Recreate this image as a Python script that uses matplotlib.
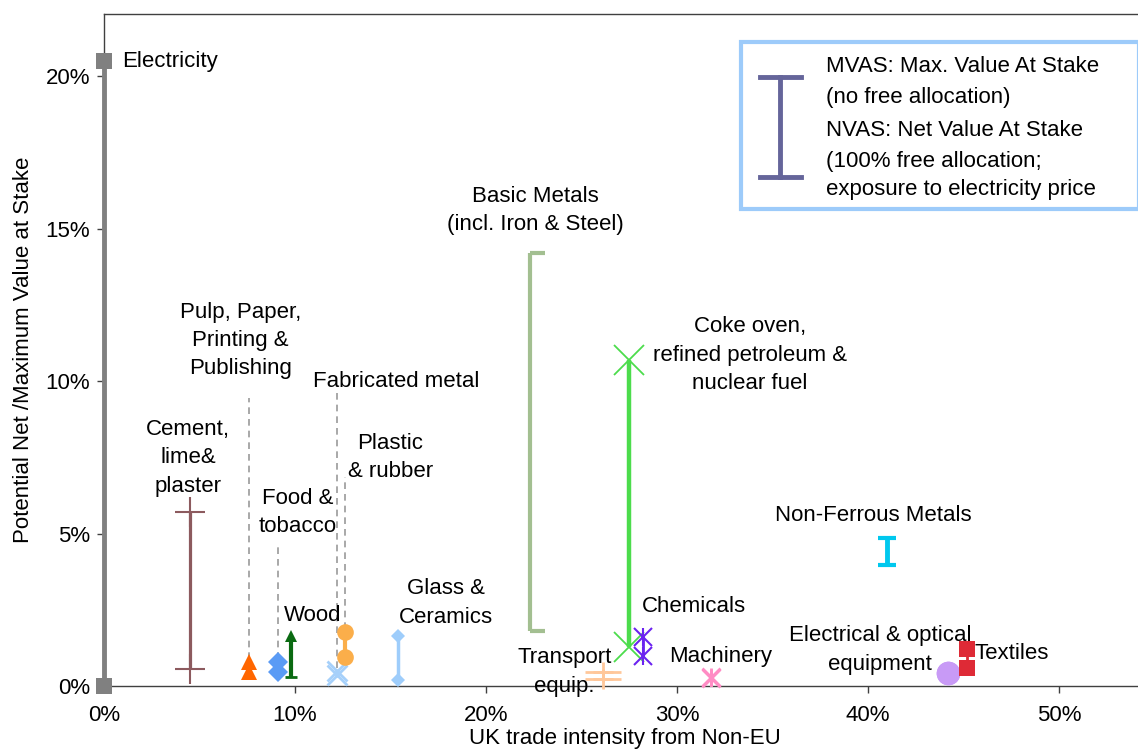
import matplotlib
matplotlib.use("Agg")
import matplotlib.pyplot as plt
from matplotlib.path import Path
from matplotlib.patches import Rectangle
from matplotlib.ticker import FuncFormatter

plt.rcParams['font.family'] = ['Liberation Sans', 'DejaVu Sans']

# ---- data (fractions) ----
sectors = ["Electricity", "Cement", "Pulp & Paper", "Food & tobacco", "Wood",
           "Fabricated metal", "Plastic & rubber", "Glass & Ceramics", "Basic Metals",
           "Coke oven", "Chemicals", "Transport equip.", "Machinery",
           "Non-Ferrous Metals", "Electrical & optical", "Textiles"]
trade_intensity = [0.000, 0.045, 0.076, 0.091, 0.098, 0.122, 0.126, 0.154, 0.223,
                   0.275, 0.282, 0.261, 0.318, 0.410, 0.442, 0.452]
mvas = [0.205, 0.057, 0.0078, 0.0078, 0.0165, 0.0050, 0.0177, 0.0164, 0.142,
        0.107, 0.0160, 0.0046, 0.0030, 0.0485, 0.0043, 0.0120]
nvas = [0.000, 0.0055, 0.0045, 0.0045, 0.0030, 0.0035, 0.0095, 0.0020, 0.018,
        0.0128, 0.0098, 0.0023, 0.0025, 0.0397, 0.0043, 0.0058]

x_ticks = [0.0, 0.1, 0.2, 0.3, 0.4, 0.5]
y_ticks = [0.0, 0.05, 0.10, 0.15, 0.20]

fig = plt.figure(figsize=(11.38, 7.56), dpi=100)
ax = fig.add_axes([104/1138, 70/756, 0.545*1910/1138, 672/756])
ax.set_xlim(0, 0.545)
ax.set_ylim(0, 0.2204)

bracket = Path([(0, 0), (1, 0)], [Path.MOVETO, Path.LINETO])

styles = {
    "Electricity": dict(color="#808080", lw=3.5, marker="s", ms=11, mew=0),
    "Cement": dict(color="#8C5A5E", lw=2.3, marker="+", ms=22, mew=1.5),
    "Pulp & Paper": dict(color="#FF6600", lw=0, marker="^", ms=11, mew=0),
    "Food & tobacco": dict(color="#5A9BF5", lw=0, marker="D", ms=10, mew=0),
    "Wood": dict(color="#0A6A12", lw=3, marker=None),
    "Fabricated metal": dict(color="#A6D0FA", lw=0, marker="x", ms=15, mew=2),
    "Plastic & rubber": dict(color="#FBAE4A", lw=3, marker="o", ms=12, mew=0),
    "Glass & Ceramics": dict(color="#9ECDFB", lw=2.5, marker="D", ms=7, mew=0),
    "Basic Metals": dict(color="#A3BF91", lw=3, marker=bracket, ms=22, mew=3),
    "Coke oven": dict(color="#4CDC4C", lw=3.2, marker="x", ms=22, mew=1.3),
    "Chemicals": dict(color="#6B22F0", lw=2, marker="x", ms=13, mew=1.5),
    "Transport equip.": dict(color="#FFC79A", lw=0, marker="+", ms=14, mew=2),
    "Machinery": dict(color="#FF8CC4", lw=0, marker="x", ms=13, mew=2),
    "Non-Ferrous Metals": dict(color="#00C8EE", lw=3.5, marker="_", ms=13, mew=3),
    "Electrical & optical": dict(color="#C89AF6", lw=0, marker="o", ms=17, mew=0),
    "Textiles": dict(color="#DE2A36", lw=2, marker="s", ms=11, mew=0),
}

for name, x, hi, lo in zip(sectors, trade_intensity, mvas, nvas):
    st = styles[name]
    c = st["color"]
    if st["lw"] > 0:
        ax.plot([x, x], [lo, hi], color=c, lw=st["lw"], solid_capstyle="butt",
                zorder=3, clip_on=False)
    if st["marker"] is not None:
        ax.plot([x, x], [lo, hi], ls="none", marker=st["marker"], ms=st["ms"],
                mew=st["mew"], color=c, mec=c, mfc=c, zorder=4, clip_on=False)
    if name in ("Chemicals", "Machinery"):
        ax.plot([x, x], [lo, hi], ls="none", marker="|", ms=st["ms"], mew=st["mew"],
                color=c, zorder=4)
    if name == "Transport equip.":
        ax.plot([x, x], [lo, hi], ls="none", marker="_", ms=26, mew=2, color=c, zorder=4)
    if name == "Wood":
        ax.plot([x], [hi], ls="none", marker="^", ms=9, color=c, mew=0, zorder=4)
        ax.plot([x], [lo], ls="none", marker="_", ms=8, color=c, mew=2, zorder=4)

# dashed leader lines (sector -> label)
def leader(name, y_top):
    i = sectors.index(name)
    ax.plot([trade_intensity[i], trade_intensity[i]], [max(mvas[i], nvas[i]) + 0.001, y_top],
            color="#999999", lw=1.2, ls=(0, (4, 3)), zorder=2)

leader("Pulp & Paper", 0.0945)
leader("Food & tobacco", 0.0455)
leader("Fabricated metal", 0.0965)
leader("Plastic & rubber", 0.0685)

fs = 16
def lab(x, y, s, ha="center"):
    ax.text(x, y, s, ha=ha, va="center", fontsize=fs, linespacing=1.45, color="black",
            zorder=5)

lab(0.0095, 0.2048, "Electricity", ha="left")
lab(0.044, 0.0748, "Cement,\nlime&\nplaster")
lab(0.0715, 0.1134, "Pulp, Paper,\nPrinting &\nPublishing")
lab(0.153, 0.1000, "Fabricated metal")
lab(0.150, 0.0750, "Plastic\n& rubber")
lab(0.1015, 0.0570, "Food &\ntobacco")
lab(0.109, 0.0230, "Wood")
lab(0.179, 0.0272, "Glass &\nCeramics")
lab(0.226, 0.1560, "Basic Metals\n(incl. Iron & Steel)")
lab(0.338, 0.1085, "Coke oven,\nrefined petroleum &\nnuclear fuel")
lab(0.403, 0.0560, "Non-Ferrous Metals")
lab(0.309, 0.0262, "Chemicals")
lab(0.241, 0.0046, "Transport\nequip.")
lab(0.323, 0.0098, "Machinery")
lab(0.4063, 0.0164, "Electrical & optical")
lab(0.4063, 0.0069, "equipment")
lab(0.456, 0.0108, "Textiles", ha="left")

# axes styling
ax.xaxis.set_major_locator(plt.FixedLocator(x_ticks))
ax.yaxis.set_major_locator(plt.FixedLocator(y_ticks))
ax.xaxis.set_major_formatter(FuncFormatter(lambda v, p: f"{v*100:.0f}%"))
ax.yaxis.set_major_formatter(FuncFormatter(lambda v, p: f"{v*100:.0f}%"))
ax.tick_params(axis="both", labelsize=16, length=5, width=1, color="#404040")
ax.tick_params(axis="x", pad=9)
ax.tick_params(axis="y", pad=5)
for sp in ax.spines.values():
    sp.set_color("#404040")
    sp.set_linewidth(1)
ax.spines["right"].set_visible(False)

ax.set_xlabel("UK trade intensity from Non-EU", fontsize=16, labelpad=1)
ax.set_ylabel("Potential Net /Maximum Value at Stake", fontsize=16, labelpad=8)

# legend box (figure coordinates)
fig.patches.append(Rectangle((741/1138, (756-209)/756), 398/1138, 167/756,
                             transform=fig.transFigure, fill=True, facecolor="white",
                             edgecolor="#9DCBFA", lw=3, zorder=10))
lc = "#65659A"
fig.add_artist(plt.Line2D([780/1138, 780/1138], [(756-77)/756, (756-177)/756],
                          color=lc, lw=3.5, transform=fig.transFigure, zorder=11))
for yy in (77, 177):
    fig.add_artist(plt.Line2D([760/1138, 801/1138], [(756-yy)/756, (756-yy)/756],
                              color=lc, lw=3.5, transform=fig.transFigure, zorder=11))
leg_lines = [(826, 67, "MVAS: Max. Value At Stake"), (826, 97, "(no free allocation)"),
             (826, 131, "NVAS: Net Value At Stake"), (826, 161, "(100% free allocation;"),
             (826, 190, "exposure to electricity price")]
for xx, yy, s in leg_lines:
    fig.text(xx/1138, (756-yy)/756, s, fontsize=16, ha="left", va="center", zorder=12)

fig.savefig("out.png", dpi=100)
